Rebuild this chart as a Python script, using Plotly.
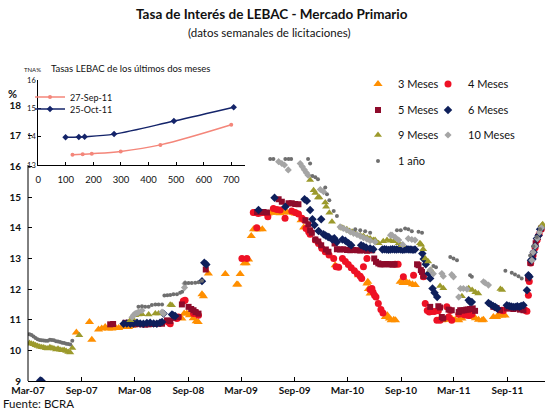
import plotly.graph_objects as go

# ---- datos semanales de licitaciones (fecha, tasa %) ----
s3m = [("2007-08-14",10.58),("2007-09-28",10.93),("2007-10-06",10.35),("2007-10-29",10.68),("2007-11-09",10.71),("2007-11-21",10.76),("2007-12-02",10.71),("2007-12-14",10.71),("2007-12-25",10.76),("2008-01-06",10.73),("2008-01-17",10.76),("2008-01-29",10.80),("2008-02-09",10.76),("2008-02-21",10.80),
       ("2008-08-10",11.04),("2008-08-18",11.20),("2008-08-27",11.20),("2008-09-05",11.15),("2008-09-18",11.05),("2008-09-28",10.95),("2008-10-05",10.93),("2008-10-18",11.83),("2008-10-23",11.77),("2008-11-09",12.51),
       ("2009-01-06",12.49),("2009-02-14",12.15),("2009-02-18",12.15),("2009-02-26",12.49),("2009-03-12",12.84),("2009-03-19",12.84),("2009-03-27",12.97),("2009-04-05",13.73),("2009-04-13",13.95),("2009-04-22",13.95),("2009-05-02",13.95),("2009-05-13",13.95),("2009-05-23",14.47),("2009-06-02",14.47),("2009-06-12",14.50),("2009-06-23",14.49),("2009-07-03",14.50),("2009-07-13",14.48),("2009-07-24",14.50),("2009-08-05",14.52),("2009-08-16",14.50),("2009-08-27",14.49),("2009-09-03",14.47),("2009-09-13",14.45),("2009-09-23",14.25),("2009-10-02",14.01),
       ("2010-01-18",12.78),("2010-04-08",12.45),("2010-05-07",12.18),("2010-05-10",12.24),("2010-05-12",12.00),("2010-05-18",11.86),("2010-05-21",11.99),("2010-07-09",11.09),("2010-07-16",11.15),("2010-07-23",11.04),("2010-07-29",10.98),("2010-08-07",11.00),("2010-08-13",10.98),("2010-08-29",12.24),("2010-09-08",12.20),("2010-09-19",12.24),("2010-09-29",12.20),("2010-10-10",12.16),("2010-10-20",12.13),
       ("2011-01-13",11.04),("2011-01-19",10.98),("2011-01-24",11.00),("2011-02-11",11.00),("2011-02-22",11.04),("2011-03-06",11.00),("2011-03-18",10.98),("2011-03-29",11.04),("2011-05-03",11.09),("2011-05-14",11.05),("2011-05-25",11.00),("2011-06-06",10.98),("2011-06-11",11.00),("2011-07-15",11.09),("2011-07-26",11.09),("2011-08-01",11.14),("2011-08-13",11.14),("2011-08-24",11.14)]

s4m = [("2008-06-24",10.93),("2008-07-01",10.87),("2008-07-24",11.04),("2008-07-29",11.09),("2008-08-15",11.61),("2008-08-21",11.64),("2008-09-19",11.20),("2008-09-28",11.22),("2008-10-06",11.15),
       ("2009-03-04",13.00),("2009-03-21",13.00),("2009-04-12",14.50),("2009-04-18",14.50),("2009-04-24",14.00),("2009-04-29",14.47),("2009-05-09",14.49),("2009-05-19",14.50),("2009-06-01",14.36),("2009-06-20",14.63),("2009-07-02",14.60),("2009-07-13",14.58),("2009-07-30",14.31),("2009-08-22",14.55),("2009-09-03",14.50),("2009-09-14",14.45),("2009-09-26",14.31),("2009-10-05",14.25),("2009-10-10",13.98),("2009-10-19",13.87),("2009-10-24",13.79),("2009-11-11",13.60),("2009-11-22",13.49),("2009-12-03",13.33),("2009-12-15",13.22),("2009-12-28",13.11),
       ("2010-01-13",13.00),("2010-01-21",12.73),("2010-01-30",12.71),("2010-02-12",13.00),("2010-02-22",12.90),("2010-03-04",12.80),("2010-03-14",12.70),("2010-03-25",12.60),("2010-04-04",12.50),("2010-04-14",12.42),("2010-04-19",12.35),("2010-04-25",12.73),("2010-05-07",13.00),("2010-05-18",11.99),("2010-05-24",12.02),("2010-05-28",11.90),("2010-06-02",11.80),("2010-06-07",11.74),("2010-06-15",11.53),("2010-06-24",11.33),("2010-07-01",11.22),("2010-08-12",12.81),("2010-08-22",12.81),("2010-09-09",12.40),("2010-10-14",12.45),("2010-11-17",12.40),("2010-11-23",11.53),("2010-11-30",11.30),("2010-12-07",11.25),("2010-12-15",11.27),("2010-12-24",11.27),
       ("2011-01-02",10.98),("2011-01-07",11.29),("2011-01-13",10.98),("2011-02-05",11.42),("2011-02-11",11.09),("2011-02-17",11.30),("2011-02-22",10.98),("2011-03-18",11.18),("2011-03-27",11.20),("2011-04-06",11.16),("2011-04-15",11.15),("2011-04-23",11.14),("2011-05-02",11.18),("2011-08-13",11.31),("2011-08-18",11.29),("2011-11-01",11.31),("2011-11-07",11.28),("2011-11-12",11.80),("2011-11-15",12.25),("2011-11-20",12.85),("2011-11-28",13.10),("2011-12-05",13.35),("2011-12-12",13.60),("2011-12-19",13.80),("2011-12-26",13.95)]

s5m = [("2007-12-08",10.85),("2007-12-18",10.86),("2008-01-29",10.90),("2008-02-09",10.90),("2008-02-21",10.88),("2008-03-03",10.85),("2008-03-14",10.86),("2008-03-26",10.85),("2008-04-06",10.84),("2008-04-18",10.85),("2008-04-29",10.86),("2008-05-11",10.86),("2008-05-22",10.87),("2008-06-03",10.87),("2008-06-20",10.98),("2008-07-01",10.96),("2008-07-12",11.06),("2008-07-29",11.09),("2008-08-10",11.50),("2008-09-02",11.42),("2008-09-11",11.35),("2008-09-19",11.31),("2008-09-26",11.25),("2008-10-06",11.20),("2008-10-31",12.64),
       ("2009-04-25",14.52),("2009-05-06",14.52),("2009-05-17",14.52),("2009-05-29",14.50),("2009-07-08",14.93),("2009-07-19",14.85),("2009-08-11",14.80),("2009-08-22",14.80),("2009-09-03",14.78),("2009-09-14",14.77),("2009-10-08",14.25),("2009-10-18",14.12),("2009-10-24",13.92),("2009-10-30",13.84),("2009-11-11",13.62),("2009-11-21",13.55),("2009-12-01",13.43),("2009-12-17",13.29),("2009-12-26",13.22),
       ("2010-01-16",13.49),("2010-01-24",13.30),("2010-02-04",13.29),("2010-02-15",13.30),("2010-02-27",13.28),("2010-03-11",13.27),("2010-03-22",13.28),("2010-04-03",13.27),("2010-04-14",13.26),("2010-04-25",13.27),("2010-05-07",13.25),("2010-05-18",13.27),("2010-05-25",13.27),("2010-06-01",13.00),("2010-06-07",12.89),("2010-06-15",12.84),("2010-06-22",12.81),("2010-06-29",12.81),("2010-07-06",12.81),("2010-07-13",12.82),("2010-07-20",12.81),("2010-07-27",12.81),("2010-08-03",12.80),("2010-08-10",12.81),
       ("2010-10-26",12.81),("2010-10-31",12.78),("2010-11-08",12.62),("2010-11-12",12.56),("2010-11-17",12.42),("2010-12-10",11.42),("2011-01-07",11.44),("2011-01-13",11.40),("2011-01-19",11.09),("2011-01-24",11.04),("2011-02-11",11.33),("2011-02-22",11.31),("2011-03-18",11.25),("2011-03-23",11.31),("2011-03-30",11.30),("2011-04-06",11.31),("2011-04-13",11.33),("2011-04-19",11.33),("2011-04-26",11.35),("2011-05-05",11.37),("2011-05-13",11.29),
       ("2011-07-15",11.42),("2011-07-26",11.38),("2011-08-07",11.31),("2011-08-30",11.37),("2011-09-10",11.37),("2011-09-21",11.35),("2011-10-03",11.37),("2011-10-14",11.33),("2011-10-26",11.31),("2011-11-11",12.35),("2011-11-19",12.85),("2011-11-28",13.15),("2011-12-07",13.50),("2011-12-15",13.70),("2011-12-26",13.98)]

s6m = [("2007-04-12",9.02),("2007-04-17",9.00),
       ("2008-01-23",10.87),("2008-02-03",10.88),("2008-02-15",10.87),("2008-02-26",10.88),("2008-03-09",10.90),("2008-03-20",10.88),("2008-03-31",10.87),("2008-04-12",10.89),("2008-04-23",10.90),("2008-05-05",10.88),("2008-05-16",10.87),("2008-05-27",10.90),("2008-06-03",10.93),("2008-06-08",11.20),("2008-07-07",11.17),("2008-07-12",11.14),("2008-07-18",11.12),("2008-10-18",12.26),("2008-10-26",12.86),("2008-11-02",12.80),
       ("2009-04-30",14.58),("2009-06-24",14.98),("2009-07-31",14.69),("2009-10-05",14.93),("2009-10-13",14.88),("2009-10-24",14.58),("2009-11-01",14.28),("2009-11-08",14.09),("2009-11-22",13.90),("2009-12-01",14.28),("2009-12-09",13.79),("2009-12-16",13.75),("2009-12-24",13.71),("2009-12-28",13.69),
       ("2010-01-08",13.62),("2010-01-15",13.66),("2010-01-24",13.54),("2010-02-12",13.62),("2010-02-22",13.58),("2010-03-05",13.50),("2010-03-14",13.43),("2010-04-17",13.43),("2010-04-25",13.40),("2010-05-04",13.36),("2010-05-18",13.33),("2010-05-29",13.30),
       ("2010-06-29",13.29),("2010-07-06",13.30),("2010-07-13",13.29),("2010-07-20",13.28),("2010-07-27",13.29),("2010-08-03",13.30),("2010-08-10",13.29),("2010-08-17",13.29),("2010-08-24",13.30),("2010-08-31",13.29),("2010-09-07",13.28),("2010-09-14",13.29),("2010-09-21",13.30),("2010-09-28",13.29),("2010-10-05",13.29),("2010-10-12",13.28),("2010-10-19",13.29),
       ("2010-11-13",13.16),("2010-11-18",12.98),("2010-11-25",12.81),("2010-12-05",12.51),("2010-12-10",12.35),("2010-12-18",12.02),("2010-12-25",11.88),("2011-01-03",11.74),
       ("2011-04-21",11.64),("2011-04-26",11.58),("2011-05-02",11.58),("2011-06-28",11.55),("2011-07-06",11.50),("2011-07-14",11.45),("2011-07-21",11.42),("2011-07-28",11.37),("2011-08-30",11.47),("2011-09-07",11.45),("2011-09-14",11.43),("2011-09-21",11.42),("2011-09-28",11.42),("2011-10-05",11.44),("2011-10-12",11.42),("2011-10-18",11.45),("2011-10-26",11.47),
       ("2011-11-07",11.96),("2011-11-12",12.45),("2011-11-16",12.40),("2011-11-21",12.94),("2011-11-26",12.98),("2011-11-30",13.20),("2011-12-05",13.40),("2011-12-11",13.65),("2011-12-17",13.75),("2011-12-22",13.95),("2011-12-28",14.03)]

s9m = [("2007-03-06",10.24),("2007-03-13",10.22),("2007-03-20",10.20),("2007-03-27",10.17),("2007-04-03",10.14),("2007-04-10",10.12),("2007-04-17",10.10),("2007-04-24",10.09),("2007-05-01",10.07),("2007-05-08",10.06),("2007-05-15",10.10),("2007-05-22",10.08),("2007-05-29",10.06),("2007-06-05",10.03),("2007-06-12",10.05),("2007-06-19",10.02),("2007-06-26",10.00),("2007-07-03",10.01),("2007-07-10",9.98),("2007-07-17",9.95),("2007-07-24",9.93),("2007-07-31",10.08),("2007-08-24",10.49),
       ("2008-02-15",10.98),("2008-02-22",11.05),("2008-03-03",11.15),("2008-03-14",11.17),("2008-03-26",11.18),("2008-04-18",11.17),("2008-05-11",11.20),("2008-05-22",11.20),("2008-07-01",11.49),("2008-07-07",11.47),
       ("2009-10-24",15.56),("2009-11-05",15.23),("2009-11-11",15.14),("2009-11-20",14.99),("2009-11-25",14.99),("2009-12-15",14.83),("2009-12-18",14.69),("2009-12-29",14.49),("2010-01-07",14.20),("2010-02-10",14.01),("2010-02-17",13.98),("2010-02-27",13.95),("2010-03-08",13.90),("2010-03-17",13.87),("2010-03-28",13.82),("2010-04-14",13.76),("2010-04-25",13.73),("2010-05-08",13.68),("2010-05-18",13.65),("2010-05-29",13.60),("2010-06-04",13.60),("2010-06-16",13.50),("2010-07-02",13.56),("2010-07-15",13.60),("2010-07-27",13.58),("2010-08-07",13.56),("2010-08-24",13.50),("2010-09-04",13.43),
       ("2010-11-05",13.50),("2010-11-09",13.45),("2010-11-16",13.30),("2010-11-23",13.00),("2010-12-03",12.90),("2010-12-12",12.62),("2011-01-13",12.10),("2011-01-24",12.03),("2011-03-29",11.77),("2011-04-21",12.03),("2011-05-03",11.97),("2011-05-14",11.90),("2011-05-24",11.86),("2011-08-08",12.00),("2011-08-14",11.97),("2011-12-28",14.08),("2011-12-31",14.12)]

s10m = [("2008-02-21",11.08),("2008-02-26",11.15),("2008-03-03",11.20),("2008-03-09",11.22),("2008-03-14",11.25),("2008-03-26",11.30),("2008-06-03",11.25),("2008-06-08",11.20),("2008-08-19",12.05),("2008-08-21",12.18),
        ("2009-07-08",16.16),("2009-07-19",16.10),("2009-07-28",16.05),("2009-08-10",15.89),("2009-09-20",16.10),("2009-09-27",16.00),("2009-10-04",15.90),("2009-10-11",15.80),("2009-10-17",15.72),("2009-11-28",15.25),("2009-12-09",15.18),
        ("2010-02-04",14.03),("2010-02-15",13.98),("2010-02-27",13.93),("2010-03-11",13.87),("2010-03-22",13.82),("2010-04-03",13.78),("2010-04-14",13.73),("2010-04-25",13.68),("2010-05-07",13.63),("2010-05-18",13.58),("2010-06-04",13.54),
        ("2010-07-27",13.76),("2010-08-01",13.76),("2010-08-12",13.69),("2010-08-24",13.60),("2010-09-07",13.45),("2010-09-26",13.65),("2010-10-08",13.62),("2010-10-19",13.60),("2010-12-10",12.62),("2010-12-21",12.50),
        ("2011-01-19",12.51),("2011-01-24",12.42),("2011-02-22",12.47),("2011-02-28",12.40),("2011-03-18",11.74),("2011-03-24",12.02),("2011-04-03",12.02),("2011-04-15",12.00),("2011-06-11",12.24),("2011-06-17",12.20),("2011-06-28",12.13),
        ("2011-11-24",12.94),("2011-11-28",13.20),("2011-12-05",13.40),("2011-12-13",13.65),("2011-12-20",13.85),("2011-12-27",14.00)]

s1a = [("2007-03-06",10.53),("2007-03-13",10.50),("2007-03-20",10.45),("2007-03-27",10.40),("2007-04-03",10.36),("2007-04-10",10.34),("2007-04-17",10.33),("2007-04-24",10.32),("2007-05-01",10.31),("2007-05-08",10.31),("2007-05-15",10.35),("2007-05-22",10.34),("2007-05-29",10.33),("2007-06-05",10.30),("2007-06-12",10.29),("2007-06-19",10.27),("2007-06-26",10.25),("2007-07-03",10.24),("2007-07-10",10.22),("2007-07-17",10.21),("2007-07-24",10.19),("2007-07-31",10.31),
       ("2008-03-14",11.42),("2008-03-26",11.44),("2008-04-06",11.42),("2008-04-18",11.42),("2008-04-29",11.48),("2008-05-11",11.50),("2008-05-22",11.50),("2008-06-03",11.50),("2008-06-11",11.79),("2008-06-21",11.80),("2008-07-01",11.81),("2008-07-12",11.83),("2008-07-24",11.83),("2008-08-04",11.88),("2008-08-11",11.91),("2008-08-21",12.20),("2008-09-02",12.20),("2008-09-13",12.20),("2008-09-25",12.21),("2008-10-06",12.22),("2008-10-18",12.27),
       ("2009-06-09",16.25),("2009-06-20",16.25),("2009-07-31",16.25),("2009-08-11",16.25),("2009-08-20",16.25),("2009-10-17",16.25),("2009-10-24",16.10),("2009-11-01",15.69),("2009-11-11",15.65),("2009-11-20",15.59),("2009-12-15",15.32),("2009-12-21",15.10),("2009-12-29",14.90),("2010-01-13",14.55),("2010-01-24",14.39),
       ("2010-03-28",13.95),("2010-04-14",13.92),("2010-05-01",13.89),("2010-05-18",13.84),("2010-08-18",13.92),("2010-08-31",13.92),("2010-09-15",13.98),("2010-09-26",13.95),("2010-10-08",13.89),("2010-10-31",13.87),("2010-11-12",13.84),("2010-12-21",12.75),("2010-12-30",12.71),
       ("2011-02-17",13.05),("2011-02-28",13.00),("2011-03-12",12.94),("2011-04-26",12.45),("2011-05-02",12.40),("2011-08-25",12.60),("2011-09-16",12.53),("2011-09-27",12.48),("2011-10-09",12.42),("2011-10-20",12.35),("2011-11-18",13.10),("2011-11-29",13.40),("2011-12-11",13.70),("2011-12-22",13.95)]

# recuadro: curva de tasas (plazo en dias, TNA %)
plazo_sep = [124, 161, 194, 299, 443, 700]
tasa_sep = [13.36, 13.38, 13.40, 13.48, 13.71, 14.42]
plazo_oct = [99, 147, 168, 275, 492, 709]
tasa_oct = [13.98, 13.99, 14.00, 14.09, 14.55, 15.04]

tick_dates = ["2007-03-01", "2007-09-01", "2008-03-01", "2008-09-01", "2009-03-01",
              "2009-09-01", "2010-03-01", "2010-09-01", "2011-03-01", "2011-09-01"]
tick_text = ["Mar-07", "Sep-07", "Mar-08", "Sep-08", "Mar-09",
             "Sep-09", "Mar-10", "Sep-10", "Mar-11", "Sep-11"]

FONT = "Lato"
W, H = 545, 412

series = [
    ("3 Meses", s3m, "triangle-up", 8, "#FF8F00", "legend"),
    ("4 Meses", s4m, "circle", 7, "#EE1125", "legend2"),
    ("5 Meses", s5m, "square", 6, "#8E0B2B", "legend3"),
    ("6 Meses", s6m, "diamond", 6.5, "#0E1F5B", "legend4"),
    ("9 Meses", s9m, "triangle-up", 7, "#9C9A2C", "legend5"),
    ("10 Meses", s10m, "diamond", 5.5, "#A5A5A5", "legend6"),
    ("1 año", s1a, "circle", 4, "#6F6F6F", "legend7"),
]

fig = go.Figure()
for name, data, sym, size, col, leg in series:
    fig.add_trace(go.Scatter(
        x=[d for d, _ in data], y=[v for _, v in data], name=name, mode="markers",
        marker=dict(symbol=sym, size=size, color=col, line=dict(width=0)),
        legend=leg, xaxis="x", yaxis="y"))

fig.add_trace(go.Scatter(x=plazo_sep, y=tasa_sep, name="27-Sep-11", mode="lines+markers",
                         line=dict(color="#F4867A", width=1.5, shape="spline"),
                         marker=dict(symbol="circle", size=4, color="#F4867A"),
                         xaxis="x2", yaxis="y2", legend="legend8"))
fig.add_trace(go.Scatter(x=plazo_oct, y=tasa_oct, name="25-Oct-11", mode="lines+markers",
                         line=dict(color="#14246A", width=1.5, shape="spline"),
                         marker=dict(symbol="diamond", size=5, color="#14246A"),
                         xaxis="x2", yaxis="y2", legend="legend9"))

L, R, T, B = 28, 0, 55, 31
PW, PH = W - L - R, H - T - B


def px(x):
    return (x - L) / PW


def py(y):
    return (H - B - y) / PH


def legend_at(x, y, size):
    return dict(xref="container", yref="container", x=x / W, y=1 - y / H,
                xanchor="left", yanchor="middle", bgcolor="rgba(0,0,0,0)",
                font=dict(family=FONT, size=size, color="#111"),
                tracegroupgap=0, itemwidth=30, visible=True)


layout_legends = {
    "legend": legend_at(358, 84, 11), "legend2": legend_at(428, 84, 11),
    "legend3": legend_at(358, 110, 11), "legend4": legend_at(428, 110, 11),
    "legend5": legend_at(358, 135, 11), "legend6": legend_at(428, 135, 11),
    "legend7": legend_at(358, 161, 11),
    "legend8": legend_at(30, 97, 9), "legend9": legend_at(30, 109, 9),
}

fig.update_layout(
    width=W, height=H, margin=dict(l=L, r=R, t=T, b=B, autoexpand=False),
    showlegend=True,
    paper_bgcolor="white", plot_bgcolor="white",
    font=dict(family=FONT, color="#111"),
    xaxis=dict(type="date", range=["2007-03-01", "2012-01-08"], domain=[0, 1], anchor="y",
               tickvals=tick_dates, ticktext=tick_text, ticks="inside", ticklen=4,
               tickcolor="black", showline=True, linecolor="black", linewidth=1,
               showgrid=False, zeroline=False, tickangle=0, automargin=False,
               tickfont=dict(family=FONT, size=10, weight="bold", color="#111")),
    yaxis=dict(range=[9, 18], domain=[0, py(105.3)], anchor="x", automargin=False,
               tickvals=list(range(9, 19)), ticks="inside", ticklen=4, tickcolor="black",
               showline=False, showgrid=False, zeroline=False, ticklabelstandoff=6,
               tickfont=dict(family=FONT, size=10, weight="bold", color="#111")),
    xaxis2=dict(domain=[px(38.3), px(245)], anchor="y2", range=[0, 750], automargin=False,
                tickvals=[0, 100, 200, 300, 400, 500, 600, 700], ticks="inside", ticklen=3,
                tickcolor="black", showline=True, linecolor="black", showgrid=False,
                zeroline=False, ticklabelstandoff=6, tickangle=0,
                tickfont=dict(family=FONT, size=9.5, color="#111")),
    yaxis2=dict(domain=[py(165), py(80)], anchor="x2", range=[13, 16], dtick=1,
                ticks="inside", ticklen=3, tickcolor="black", showline=True, automargin=False,
                linecolor="black", showgrid=False, zeroline=False, ticklabelstandoff=0,
                tickfont=dict(family=FONT, size=7.5, color="#111")),
    shapes=[dict(type="line", xref="paper", yref="y", x0=0, x1=0, y0=9, y1=16.05,
                 line=dict(color="black", width=1))],
    annotations=[
        dict(text="<b>Tasa de Interés de LEBAC - Mercado Primario</b>", x=px(272), y=py(14),
             xref="paper", yref="paper", showarrow=False, xanchor="center", yanchor="middle",
             font=dict(family=FONT, size=13.5, color="#111")),
        dict(text="(datos semanales de licitaciones)", x=px(269), y=py(33),
             xref="paper", yref="paper", showarrow=False, xanchor="center", yanchor="middle",
             font=dict(family=FONT, size=11.5, color="#111")),
        dict(text="Fuente: BCRA", x=px(1), y=py(403.5), xref="paper", yref="paper",
             showarrow=False, xanchor="left", yanchor="middle",
             font=dict(family=FONT, size=11.5, color="#111")),
        dict(text="<b>%</b>", x=px(12), y=py(93), xref="paper", yref="paper",
             showarrow=False, xanchor="center", yanchor="middle",
             font=dict(family=FONT, size=11, color="#111")),
        dict(text="TNA%", x=px(32), y=py(70), xref="paper", yref="paper",
             showarrow=False, xanchor="center", yanchor="middle",
             font=dict(family=FONT, size=6, color="#111")),
        dict(text="Tasas LEBAC de los últimos dos meses", x=px(130.5), y=py(68.5),
             xref="paper", yref="paper", showarrow=False, xanchor="center", yanchor="middle",
             font=dict(family=FONT, size=9.5, color="#111")),
    ],
    **layout_legends,
)

# la pagina por defecto deja 8px de margen en el body; se quita para que el grafico ocupe la ventana
fig.write_html("out.html", config={"displayModeBar": False},
               post_script="document.body.style.margin='0';")
